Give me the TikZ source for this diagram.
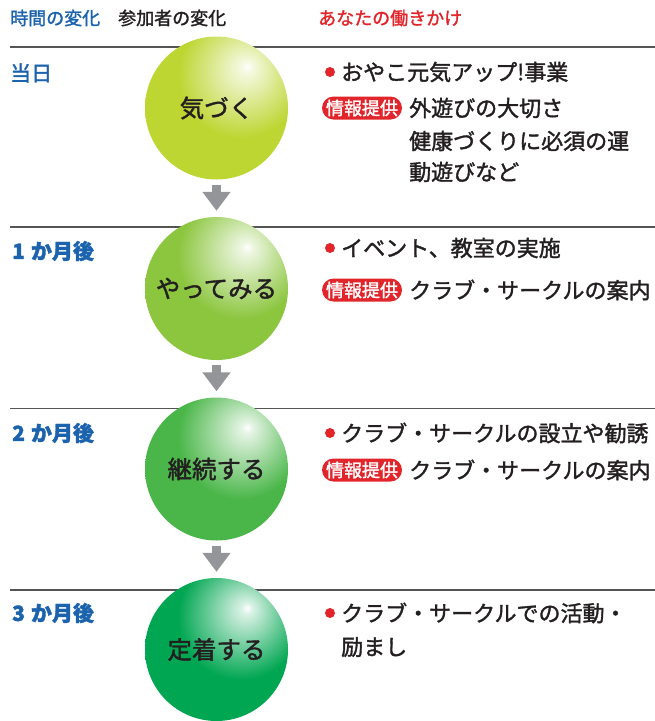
\documentclass[tikz,border=0pt]{standalone}
\usepackage{fontspec}
\setmainfont{Noto Sans CJK JP}[FakeBold=1.6]
\usetikzlibrary{arrows.meta}
\definecolor{cA}{HTML}{BDD631}
\definecolor{cB}{HTML}{8CC63F}
\definecolor{cC}{HTML}{4AB649}
\definecolor{cD}{HTML}{00A651}
\definecolor{hblue}{HTML}{1C63AE}
\definecolor{hred}{HTML}{E1252B}
\definecolor{txt}{HTML}{231F20}
\definecolor{agray}{HTML}{939598}
\definecolor{rulegray}{HTML}{555555}
\pgfdeclareradialshading{ballA}{\pgfpoint{10.8bp}{14.6bp}}{color(0bp)=(white); color(2bp)=(white!85!cA); color(22bp)=(cA); color(100bp)=(cA)}
\pgfdeclareradialshading{ballB}{\pgfpoint{10.8bp}{14.6bp}}{color(0bp)=(white); color(2bp)=(white!85!cB); color(22bp)=(cB); color(100bp)=(cB)}
\pgfdeclareradialshading{ballC}{\pgfpoint{10.8bp}{14.6bp}}{color(0bp)=(white); color(2bp)=(white!85!cC); color(22bp)=(cC); color(100bp)=(cC)}
\pgfdeclareradialshading{ballD}{\pgfpoint{10.8bp}{14.6bp}}{color(0bp)=(white); color(2bp)=(white!85!cD); color(22bp)=(cD); color(100bp)=(cD)}
\tikzset{
  ball/.style={circle, minimum size=143pt, inner sep=0pt, text=txt, font=\fontsize{24.5}{28}\selectfont},
  garrow/.style={agray, line width=9pt, shorten <=5pt, shorten >=6pt, -{Triangle[length=19pt, width=27pt]}},
  rulel/.style={rulegray, line width=1.2pt},
  hdr/.style={anchor=west, inner sep=0pt, font=\fontsize{18}{20}\selectfont},
  rowlab/.style={anchor=west, inner sep=0pt, text=hblue, font=\fontsize{21}{24}\selectfont},
  rowlabb/.style={rowlab, font=\fontsize{21}{24}\selectfont\bfseries},
  rt/.style={anchor=west, inner sep=0pt, text=txt, font=\fontsize{22}{26}\selectfont},
  dot/.style={circle, fill=hred, minimum size=10pt, inner sep=0pt},
  badge/.style={fill=hred, text=white, rounded corners=11.5pt, minimum height=23pt, minimum width=80pt, inner sep=0pt, font=\fontsize{18}{18}\selectfont}
}
\begin{document}
\begin{tikzpicture}[x=1pt, y=-1pt]
\useasboundingbox (0,0) rectangle (655,721);
% headers
\node[hdr, text=hblue] (h1) at (10,18) {時間の変化};
\node[hdr, text=txt] (h2) at (118,18) {参加者の変化};
\node[hdr, text=hred] (h3) at (318,18) {あなたの働きかけ};
% rules
\coordinate (l1a) at (10,47); \coordinate (l1b) at (655,47);
\coordinate (l2a) at (10,227); \coordinate (l2b) at (655,227);
\coordinate (l3a) at (10,408.5); \coordinate (l3b) at (655,408.5);
\coordinate (l4a) at (10,590); \coordinate (l4b) at (655,590);
\draw[rulel] (l1a) -- (l1b);
\draw[rulel] (l2a) -- (l2b);
\draw[rulel] (l3a) -- (l3b);
\draw[rulel] (l4a) -- (l4b);
% balls
\node[ball, shading=ballA] (c1) at (216.5,108) {気づく};
\node[ball, shading=ballB] (c2) at (216.5,288.5) {やってみる};
\node[ball, shading=ballC] (c3) at (216.5,469) {継続する};
\node[ball, shading=ballD] (c4) at (216.5,649.5) {定着する};
\draw[garrow] (c1.south) -- (c2.north);
\draw[garrow] (c2.south) -- (c3.north);
\draw[garrow] (c3.south) -- (c4.north);
% row labels
\node[rowlab] (r1) at (10,73) {当日};
\node[rowlabb] (r2) at (12,251) {1\hspace{6pt}か月後};
\node[rowlabb] (r3) at (12,433) {2\hspace{6pt}か月後};
\node[rowlabb] (r4) at (12,613) {3\hspace{6pt}か月後};
% row 1
\node[dot] (d1) at (330,72) {};
\node[rt] (t1) at (341,72) {おやこ元気アップ!事業};
\node[badge] (p1) at (362,108) {情報提供};
\node[rt] (t1b) at (409,108) {外遊びの大切さ};
\node[rt] (t1c) at (409,141) {健康づくりに必須の運};
\node[rt] (t1d) at (409,172) {動遊びなど};
% row 2
\node[dot] (d2) at (330,248) {};
\node[rt] (t2) at (341,248) {イベント、教室の実施};
\node[badge] (p2) at (362,290) {情報提供};
\node[rt] (t2b) at (409,290) {クラブ・サークルの案内};
% row 3
\node[dot] (d3) at (330,433) {};
\node[rt] (t3) at (341,433) {クラブ・サークルの設立や勧誘};
\node[badge] (p3) at (362,470) {情報提供};
\node[rt] (t3b) at (409,470) {クラブ・サークルの案内};
% row 4
\node[dot] (d4) at (330,613) {};
\node[rt] (t4) at (341,613) {クラブ・サークルでの活動・};
\node[rt] (t4b) at (341,647) {励まし};
\end{tikzpicture}
\end{document}
